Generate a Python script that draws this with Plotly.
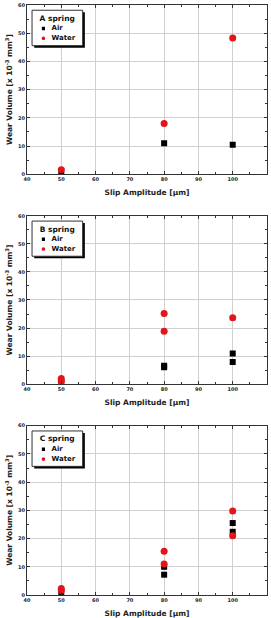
import plotly.graph_objects as go

panels = ["A spring", "B spring", "C spring"]
series_names = ["Air", "Water"]

air_x = [[50, 80, 100],
         [50, 80, 80, 100, 100],
         [50, 80, 80, 100, 100]]
air_y = [[1.0, 11.0, 10.5],
         [0.5, 6.0, 6.6, 10.9, 7.9],
         [0.8, 10.0, 7.2, 25.5, 22.4]]
water_x = [[50, 80, 100],
           [50, 50, 80, 80, 100],
           [50, 50, 80, 80, 100, 100]]
water_y = [[1.6, 18.0, 48.3],
           [2.0, 1.0, 25.2, 18.9, 23.7],
           [2.3, 1.6, 15.5, 11.0, 29.8, 21.0]]

x_ticks = [40, 50, 60, 70, 80, 90, 100, 110]
y_ticks = [0, 10, 20, 30, 40, 50, 60]
x_title = "Slip Amplitude [μm]"
y_title = "Wear Volume [x 10<sup>-3</sup> mm<sup>3</sup>]"

RED = "#e3141b"
FONT = "DejaVu Sans"
XR = [40, 110]
YR = [0, 60]

fig = go.Figure()
domains = [(0.7131, 1.0), (0.3574, 0.6426), (0.0, 0.2869)]


def dx(f):
    return XR[0] + f * (XR[1] - XR[0])


def dy(f):
    return YR[0] + f * (YR[1] - YR[0])


for i in range(3):
    xa = "x" if i == 0 else f"x{i+1}"
    ya = "y" if i == 0 else f"y{i+1}"
    fig.add_trace(go.Scatter(x=air_x[i], y=air_y[i], mode="markers", xaxis=xa, yaxis=ya,
                             marker=dict(symbol="square", size=6, color="black"),
                             showlegend=False, name="Air"))
    fig.add_trace(go.Scatter(x=water_x[i], y=water_y[i], mode="markers", xaxis=xa, yaxis=ya,
                             marker=dict(symbol="circle", size=7, color=RED),
                             showlegend=False, name="Water"))
    axis_common = dict(showline=True, linecolor="#333333", linewidth=1, mirror="ticks",
                       showgrid=True, gridcolor="#d0d0d0", gridwidth=1,
                       ticks="inside", ticklen=3, tickcolor="#333333", zeroline=False,
                       tickfont=dict(family=FONT, size=5, color="#222222", weight="bold"))
    xkey = "xaxis" if i == 0 else f"xaxis{i+1}"
    ykey = "yaxis" if i == 0 else f"yaxis{i+1}"
    fig.layout[xkey] = dict(axis_common, domain=[0, 1], anchor=ya, range=XR,
                            tickvals=x_ticks,
                            minor=dict(dtick=5, ticks="inside", ticklen=2, tickcolor="#333333", showgrid=False),
                            title=dict(text=x_title, standoff=8,
                                       font=dict(family=FONT, size=7.5, color="#222222", weight="bold")))
    fig.layout[ykey] = dict(axis_common, domain=list(domains[i]), anchor=xa, range=YR,
                            tickvals=y_ticks,
                            minor=dict(dtick=5, ticks="inside", ticklen=2, tickcolor="#333333", showgrid=False),
                            title=dict(text=y_title, standoff=4,
                                       font=dict(family=FONT, size=7.5, color="#222222", weight="bold")))
    # legend shadow + box (drawn between gridlines and traces)
    fig.add_shape(type="rect", xref=xa, yref=ya, x0=dx(0.030), x1=dx(0.241), y0=dy(0.748), y1=dy(0.957),
                  fillcolor="black", line=dict(width=0), layer="between")
    fig.add_shape(type="rect", xref=xa, yref=ya, x0=dx(0.021), x1=dx(0.232), y0=dy(0.760), y1=dy(0.969),
                  fillcolor="white", line=dict(color="#333333", width=1), layer="between")
    # legend keys
    fig.add_shape(type="rect", xref=xa, yref=ya, x0=dx(0.062), x1=dx(0.075), y0=dy(0.851), y1=dy(0.871),
                  fillcolor="black", line=dict(width=0), layer="between")
    fig.add_shape(type="circle", xref=xa, yref=ya, x0=dx(0.061), x1=dx(0.076), y0=dy(0.792), y1=dy(0.814),
                  fillcolor=RED, line=dict(width=0), layer="between")
    # legend texts
    fig.add_trace(go.Scatter(x=[dx(0.126)], y=[dy(0.918)], mode="text", xaxis=xa, yaxis=ya,
                             text=[f"<b>{panels[i]}</b>"], textposition="middle center",
                             textfont=dict(family=FONT, size=7.5, color="#111111"),
                             showlegend=False, hoverinfo="skip", cliponaxis=False))
    fig.add_trace(go.Scatter(x=[dx(0.102), dx(0.102)], y=[dy(0.861), dy(0.803)], mode="text",
                             xaxis=xa, yaxis=ya,
                             text=[f"<b>{n}</b>" for n in series_names], textposition="middle right",
                             textfont=dict(family=FONT, size=7, color="#111111"),
                             showlegend=False, hoverinfo="skip", cliponaxis=False))

fig.update_layout(width=271, height=618, margin=dict(l=27, r=4, t=2, b=20),
                  paper_bgcolor="white", plot_bgcolor="white", showlegend=False)
fig.write_html("out.html")
